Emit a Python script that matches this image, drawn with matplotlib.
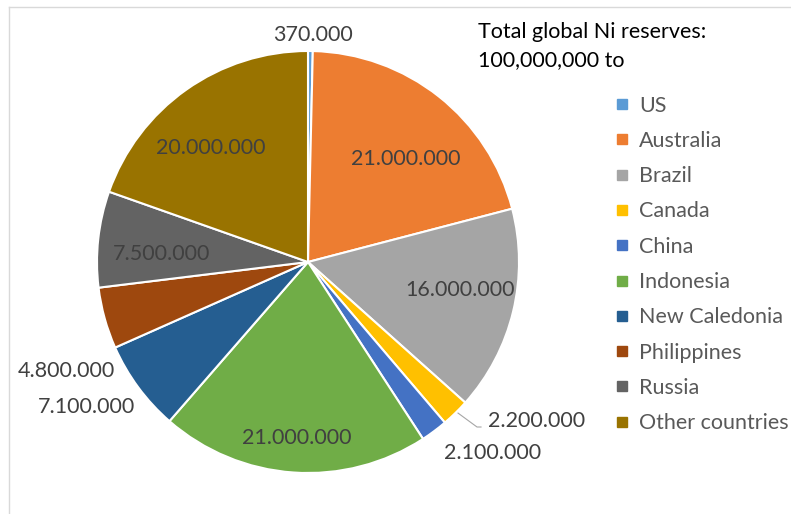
import matplotlib
matplotlib.use("Agg")
import matplotlib.pyplot as plt
from matplotlib.lines import Line2D

countries = ["US", "Australia", "Brazil", "Canada", "China", "Indonesia",
             "New Caledonia", "Philippines", "Russia", "Other countries"]
reserves = [370000, 21000000, 16000000, 2200000, 2100000, 21000000,
            7100000, 4800000, 7500000, 20000000]
colors = ["#5B9BD5", "#ED7D31", "#A5A5A5", "#FFC000", "#4472C4", "#70AD47",
          "#255E91", "#9E480E", "#636363", "#997300"]
note = "Total global Ni reserves:\n100,000,000 to"

# value label anchors (data units, pie radius = 1) and alignment
label_pos = [(0.024, 1.075), (0.465, 0.49), (0.72, -0.133), (0.853, -0.754),
             (0.645, -0.905), (-0.052, -0.834), (-0.82, -0.687),
             (-0.915, -0.517), (-0.692, 0.038), (-0.46, 0.54)]
label_ha = ["center", "center", "center", "left", "left", "center",
            "right", "right", "center", "center"]

plt.rcParams["font.family"] = ["Lato", "DejaVu Sans"]

W, H, R = 791, 514, 211
cx, cy = 308, 514 - 262
fig = plt.figure(figsize=(W / 100, H / 100), dpi=100)
ax = fig.add_axes([(cx - 1.4 * R) / W, (cy - 1.2 * R) / H, 2.8 * R / W, 2.4 * R / H])

ax.pie(reserves, colors=colors, startangle=90, counterclock=False, radius=1,
       center=(0, 0), frame=True,
       wedgeprops=dict(edgecolor="white", linewidth=1.5))
ax.set_xlim(-1.4, 1.4)
ax.set_ylim(-1.2, 1.2)
ax.set_aspect("auto")
ax.axis("off")

for i, v in enumerate(reserves):
    txt = f"{v:,}".replace(",", ".")
    x, y = label_pos[i]
    ax.text(x, y, txt, ha=label_ha[i], va="center", fontsize=15.5,
            color="#404040", clip_on=False)

# leader line for the Canada label
ax.plot([0.711, 0.801, 0.82], [-0.716, -0.782, -0.782], color="#A6A6A6", lw=0.8)

fig.text(478 / W, 1 - 22 / H, note, ha="left", va="top", fontsize=15.5,
         color="black", linespacing=1.5)

handles = [Line2D([], [], marker="s", linestyle="", markersize=7,
                  markerfacecolor=c, markeredgecolor=c) for c in colors]
fig.legend(handles, countries, loc="upper left",
           bbox_to_anchor=(607 / W, 1 - 87 / H), frameon=False,
           fontsize=15.5, labelcolor="#595959", handlelength=0.6,
           handletextpad=0.5, labelspacing=0.71, borderaxespad=0)

# chart area border
fig.add_artist(Line2D([8.5 / W, 8.5 / W], [0, 1 - 6.5 / H], color="#D9D9D9",
                      lw=1, transform=fig.transFigure))
fig.add_artist(Line2D([8.5 / W, 1], [1 - 6.5 / H, 1 - 6.5 / H], color="#D9D9D9",
                      lw=1, transform=fig.transFigure))

fig.savefig("out.png", dpi=100)
